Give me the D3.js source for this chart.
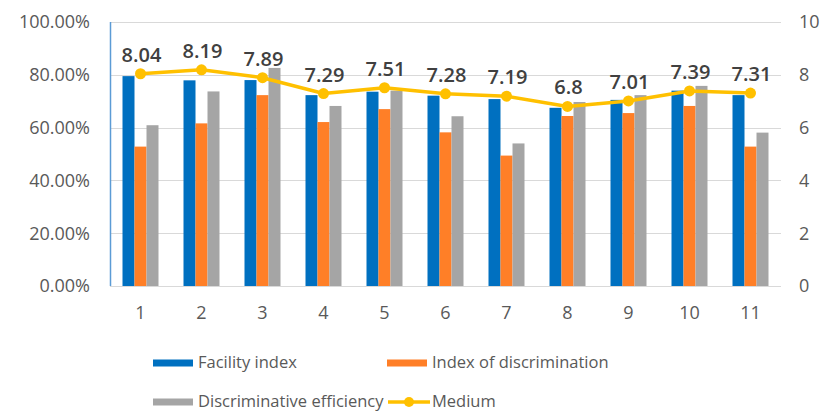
<!DOCTYPE html>
<html>
<head>
<meta charset="utf-8">
<script src="https://cdn.jsdelivr.net/npm/d3@7"></script>
<style>
  html, body { margin: 0; padding: 0; background: #fff; }
  svg { display: block; font-family: "Open Sans", "Noto Sans", sans-serif; }
</style>
</head>
<body>
<svg id="chart" width="826" height="412"></svg>
<script>
// Item numbers
const categories = ["1", "2", "3", "4", "5", "6", "7", "8", "9", "10", "11"];

// Bar series (fractions, left axis)
const facilityIndex = [0.795, 0.779, 0.780, 0.723, 0.736, 0.721, 0.708, 0.675, 0.705, 0.740, 0.723];
const indexOfDiscrimination = [0.528, 0.616, 0.723, 0.621, 0.670, 0.582, 0.494, 0.644, 0.655, 0.682, 0.528];
const discriminativeEfficiency = [0.609, 0.737, 0.826, 0.682, 0.740, 0.643, 0.540, 0.697, 0.723, 0.758, 0.581];

// Line series (right axis)
const medium = [8.04, 8.19, 7.89, 7.29, 7.51, 7.28, 7.19, 6.8, 7.01, 7.39, 7.31];

// Axis ticks
const leftTicks = [0, 0.2, 0.4, 0.6, 0.8, 1.0];
const rightTicks = [0, 2, 4, 6, 8, 10];

const seriesNames = ["Facility index", "Index of discrimination", "Discriminative efficiency"];
const seriesValues = [facilityIndex, indexOfDiscrimination, discriminativeEfficiency];
const seriesColors = ["#0070C0", "#FF7F27", "#A5A5A5"];
const lineName = "Medium";
const lineColor = "#FFC000";

const svg = d3.select("#chart");
const plot = { left: 110, right: 781, top: 22, bottom: 286 };

const x = d3.scaleBand().domain(categories).range([plot.left, plot.right]).padding(0);
const groupWidth = 36;
const xInner = d3.scaleBand().domain(seriesNames).range([0, groupWidth]).padding(0);
const yLeft = d3.scaleLinear().domain([0, 1]).range([plot.bottom, plot.top]);
const yRight = d3.scaleLinear().domain([0, 10]).range([plot.bottom, plot.top]);

// Gridlines
svg.append("g")
  .selectAll("line")
  .data(leftTicks)
  .join("line")
  .attr("x1", plot.left).attr("x2", plot.right)
  .attr("y1", d => Math.round(yLeft(d)) + 0.5)
  .attr("y2", d => Math.round(yLeft(d)) + 0.5)
  .attr("stroke", "#D9D9D9")
  .attr("stroke-width", 1.2);

// Left axis labels
const fmtPct = d3.format(".2%");
svg.append("g")
  .selectAll("text")
  .data(leftTicks)
  .join("text")
  .attr("x", 90)
  .attr("y", d => yLeft(d))
  .attr("dy", "0.36em")
  .attr("text-anchor", "end")
  .attr("font-size", 18)
  .attr("fill", "#595959")
  .text(d => fmtPct(d));

// Right axis labels
svg.append("g")
  .selectAll("text")
  .data(rightTicks)
  .join("text")
  .attr("x", 799)
  .attr("y", d => yRight(d))
  .attr("dy", "0.36em")
  .attr("text-anchor", "start")
  .attr("font-size", 18)
  .attr("fill", "#595959")
  .text(d => d);

// Category labels
svg.append("g")
  .selectAll("text")
  .data(categories)
  .join("text")
  .attr("x", d => x(d) + x.bandwidth() / 2)
  .attr("y", 319)
  .attr("text-anchor", "middle")
  .attr("font-size", 18)
  .attr("fill", "#595959")
  .text(d => d);

// Bars
const groupOffset = (x.bandwidth() - groupWidth) / 2;
seriesNames.forEach((name, si) => {
  svg.append("g")
    .attr("fill", seriesColors[si])
    .selectAll("rect")
    .data(categories.map((c, i) => ({ c, v: seriesValues[si][i] })))
    .join("rect")
    .attr("x", d => x(d.c) + groupOffset + xInner(name))
    .attr("width", xInner.bandwidth())
    .attr("y", d => yLeft(d.v))
    .attr("height", d => yLeft(0) - yLeft(d.v));
});

// Left axis line
svg.append("line")
  .attr("x1", plot.left + 0.5).attr("x2", plot.left + 0.5)
  .attr("y1", plot.top).attr("y2", plot.bottom)
  .attr("stroke", "#5B9BD5").attr("stroke-width", 1.5);

// Medium line with markers
const cx = c => x(c) + x.bandwidth() / 2;
const pts = categories.map((c, i) => ({ c, v: medium[i] }));
svg.append("path")
  .datum(pts)
  .attr("fill", "none")
  .attr("stroke", lineColor)
  .attr("stroke-width", 3.5)
  .attr("stroke-linejoin", "round")
  .attr("d", d3.line().x(d => cx(d.c)).y(d => yRight(d.v)));

svg.append("g")
  .selectAll("circle")
  .data(pts)
  .join("circle")
  .attr("cx", d => cx(d.c))
  .attr("cy", d => yRight(d.v))
  .attr("r", 5.5)
  .attr("fill", lineColor);

// Value labels
svg.append("g")
  .selectAll("text")
  .data(pts)
  .join("text")
  .attr("x", d => cx(d.c) + 1)
  .attr("y", d => yRight(d.v) - 12)
  .attr("text-anchor", "middle")
  .attr("font-size", 20)
  .attr("font-weight", 600)
  .attr("fill", "#404040")
  .text(d => d.v);

// Legend
const legend = svg.append("g").attr("font-size", 16.5).attr("fill", "#595959");
const legendItems = [
  { name: seriesNames[0], color: seriesColors[0], x: 153, y: 363, type: "bar" },
  { name: seriesNames[1], color: seriesColors[1], x: 387, y: 363, type: "bar" },
  { name: seriesNames[2], color: seriesColors[2], x: 153, y: 402, type: "bar" },
  { name: lineName, color: lineColor, x: 388, y: 402, type: "line" }
];
legendItems.forEach(it => {
  if (it.type === "bar") {
    legend.append("rect")
      .attr("x", it.x).attr("y", it.y - 3.5)
      .attr("width", 40).attr("height", 7)
      .attr("fill", it.color);
  } else {
    legend.append("line")
      .attr("x1", it.x).attr("x2", it.x + 42)
      .attr("y1", it.y).attr("y2", it.y)
      .attr("stroke", it.color).attr("stroke-width", 3.5);
    legend.append("circle")
      .attr("cx", it.x + 21).attr("cy", it.y).attr("r", 5)
      .attr("fill", it.color);
  }
  legend.append("text")
    .attr("x", it.x + (it.type === "bar" ? 45 : 44))
    .attr("y", it.y + 5)
    .attr("fill", "#595959")
    .text(it.name);
});
</script>
</body>
</html>
